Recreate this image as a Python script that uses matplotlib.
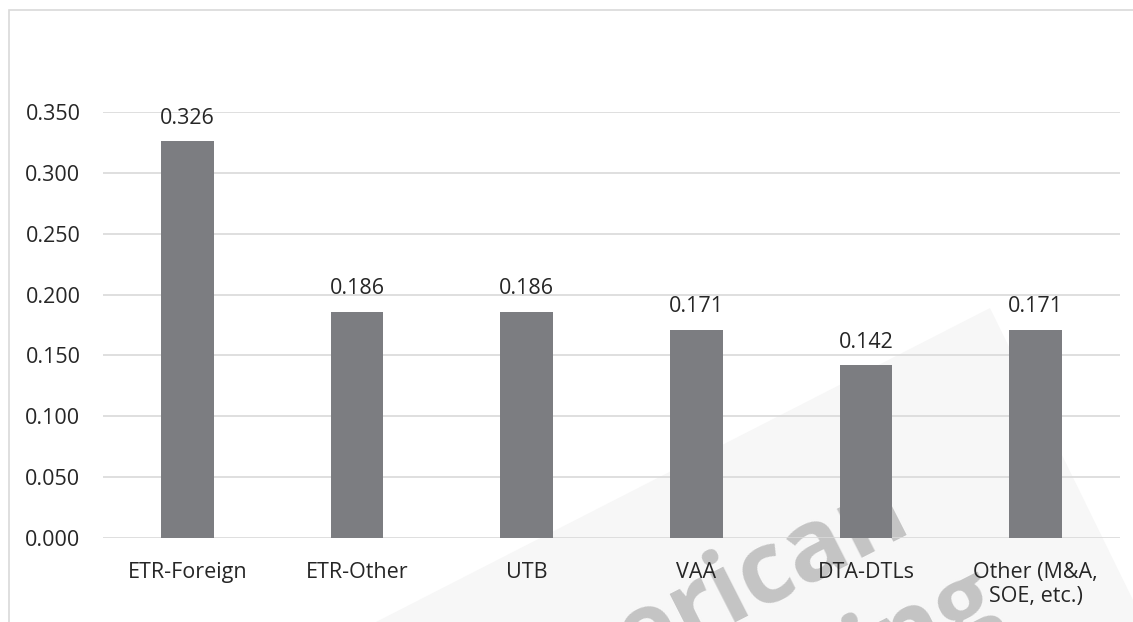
import matplotlib.pyplot as plt
from matplotlib.patches import Polygon, Rectangle

categories = ["ETR-Foreign", "ETR-Other", "UTB", "VAA", "DTA-DTLs", "Other (M&A,\nSOE, etc.)"]
values = [0.326, 0.186, 0.186, 0.171, 0.142, 0.171]
y_ticks = [0.0, 0.05, 0.10, 0.15, 0.20, 0.25, 0.30, 0.35]

plt.rcParams["font.family"] = ["Open Sans", "DejaVu Sans"]

W, H = 1133, 622
fig = plt.figure(figsize=(W / 100, H / 100), dpi=100)


def fx(px):
    return px / W


def fy(py):
    return 1 - py / H


# faint watermark band and lettering (cropped at the bottom, like the source)
fig.patches.append(Polygon([(fx(376), fy(622)), (fx(990), fy(308)), (fx(1133), fy(600)),
                            (fx(1133), fy(622))],
                           closed=True, transform=fig.transFigure, facecolor="#f7f7f7",
                           edgecolor="none", zorder=0))
for txt, px, py in [("American", 700, 640), ("Accounting", 754, 747)]:
    fig.text(fx(px), fy(py), txt, fontsize=72, fontweight="bold", color="#c4c4c4",
             rotation=27, rotation_mode="anchor", ha="center", va="baseline", zorder=0.5)

# chart border (top and left visible, rest cropped)
fig.patches.append(Rectangle((fx(8.5), -0.1), 1.2, 1 - 9.5 / H + 0.1, transform=fig.transFigure,
                             facecolor="none", edgecolor="#d9d9d9", linewidth=1.2, zorder=1))

ax = fig.add_axes([fx(102.7), fy(538), (1120.3 - 102.7) / W, (538 - 112) / H])
ax.patch.set_alpha(0)
ax.set_zorder(2)

x = range(len(categories))
bars = ax.bar(x, values, width=0.31, color="#7c7d81", zorder=3)

for rect, v in zip(bars, values):
    ax.annotate(f"{v:.3f}", (rect.get_x() + rect.get_width() / 2, v),
                xytext=(0, 9), textcoords="offset points", ha="center", va="bottom",
                fontsize=15.5, color="#262626", annotation_clip=False)

ax.set_xlim(-0.5, len(categories) - 0.5)
ax.set_ylim(0, 0.35)
ax.set_yticks(y_ticks)
ax.set_yticklabels([f"{t:.3f}" for t in y_ticks])
ax.set_xticks(list(x))
ax.set_xticklabels(categories, va="top", linespacing=1.2)
ax.tick_params(axis="both", length=0, labelsize=15.5, labelcolor="#262626")
ax.tick_params(axis="y", pad=16)
ax.tick_params(axis="x", pad=17)
ax.grid(axis="y", color="#d9d9d9", linewidth=1.2, zorder=0)
for s in ax.spines.values():
    s.set_visible(False)

fig.savefig("out.png", dpi=100)
